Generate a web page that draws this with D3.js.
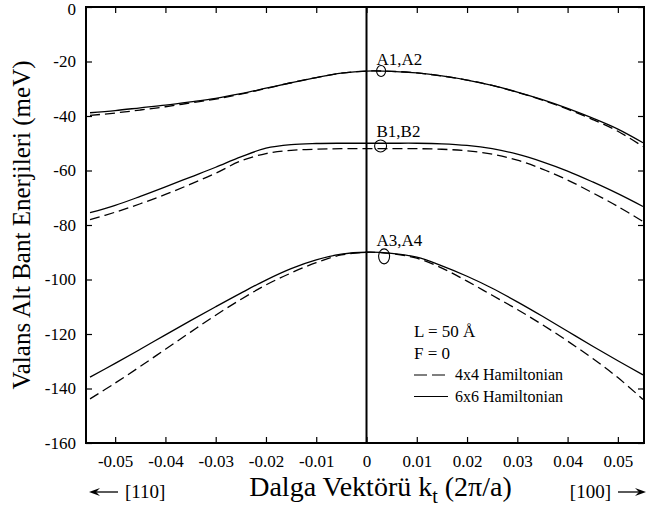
<!DOCTYPE html>
<html>
<head>
<meta charset="utf-8">
<script src="https://cdn.jsdelivr.net/npm/d3@7"></script>
<style>
  body { margin: 0; background: #fff; }
  svg text { font-family: "Liberation Serif", Tinos, "Times New Roman", Times, "Nimbus Roman", "DejaVu Serif", "Noto Serif", serif !important; fill: #000; }
</style>
</head>
<body>
<div id="chart"></div>
<script>
// data
var kValues = [-0.055, -0.05, -0.045, -0.04, -0.035, -0.03, -0.025, -0.02, -0.015, -0.01, -0.005, 0,
    0.005, 0.01, 0.015, 0.02, 0.025, 0.03, 0.035, 0.04, 0.045, 0.05, 0.055];

var a12Solid = [-38.8, -38.0, -37.0, -36.0, -34.8, -33.5, -31.8, -29.8, -27.8, -25.9, -24.3, -23.5,
    -23.6, -24.2, -25.3, -26.8, -28.8, -31.2, -34.0, -37.2, -40.8, -44.8, -49.8];
var a12Dashed = [-39.8, -38.9, -37.8, -36.6, -35.2, -33.8, -32.0, -29.9, -27.8, -25.9, -24.3, -23.5,
    -23.6, -24.2, -25.3, -26.8, -28.8, -31.3, -34.2, -37.5, -41.3, -45.6, -51.2];

var b12Solid = [-75.5, -72.8, -69.5, -66.0, -62.4, -58.8, -55.0, -51.8, -50.5, -50.1, -50.0, -50.0,
    -50.0, -50.0, -50.2, -50.8, -52.0, -54.0, -56.8, -60.2, -64.2, -68.5, -73.2];
var b12Dashed = [-78.0, -75.3, -72.2, -68.8, -65.0, -61.0, -56.5, -53.8, -52.6, -52.2, -52.0, -52.0,
    -52.0, -52.0, -52.2, -52.8, -54.0, -56.2, -59.5, -63.5, -68.2, -73.2, -78.7];

var a34Solid = [-135.8, -130.8, -125.6, -120.3, -115.1, -110.0, -105.0, -100.2, -96.0, -92.8, -90.7, -90.0,
    -90.4, -91.8, -95.0, -98.8, -103.2, -108.2, -113.5, -119.0, -124.5, -129.8, -135.0];
var a34Dashed = [-143.8, -138.0, -131.9, -125.6, -119.3, -113.1, -107.3, -102.0, -97.6, -93.8, -91.0, -90.0,
    -90.5, -92.2, -95.8, -100.6, -105.8, -111.0, -116.6, -122.6, -129.0, -136.0, -144.0];

var xTicks = [-0.05, -0.04, -0.03, -0.02, -0.01, 0, 0.01, 0.02, 0.03, 0.04, 0.05];
var yTicks = [0, -20, -40, -60, -80, -100, -120, -140, -160];

var bandLabels = ["A1,A2", "B1,B2", "A3,A4"];
var bandPeaks = [-23.5, -50, -90];

var width = 651, height = 514;
var mLeft = 86, mRight = 644, mTop = 7, mBottom = 443;

var svg = d3.select("#chart").append("svg")
    .attr("width", width)
    .attr("height", height);

var x = d3.scaleLinear().domain([-0.0558, 0.0552]).range([mLeft, mRight]);
var y = d3.scaleLinear().domain([-160, 0]).range([mBottom, mTop]);

function series(vals) {
    return kValues.map(function (k, i) { return [k, vals[i]]; });
}

var line = d3.line()
    .x(function (d) { return x(d[0]); })
    .y(function (d) { return y(d[1]); })
    .curve(d3.curveCatmullRom);

// curves
[a12Dashed, b12Dashed, a34Dashed].forEach(function (s) {
    svg.append("path")
        .attr("d", line(series(s)))
        .attr("fill", "none")
        .attr("stroke", "#000")
        .attr("stroke-width", 1.3)
        .attr("stroke-dasharray", "10,5");
});
[a12Solid, b12Solid, a34Solid].forEach(function (s) {
    svg.append("path")
        .attr("d", line(series(s)))
        .attr("fill", "none")
        .attr("stroke", "#000")
        .attr("stroke-width", 1.3);
});

// zero line
svg.append("line")
    .attr("x1", x(0)).attr("x2", x(0))
    .attr("y1", mTop).attr("y2", mBottom)
    .attr("stroke", "#000").attr("stroke-width", 2);

// axes (ticks pointing inward on all four sides)
var tickLen = 6;
svg.append("g").attr("transform", "translate(0," + mBottom + ")")
    .call(d3.axisBottom(x).tickValues(xTicks).tickSizeInner(-tickLen).tickSizeOuter(0)
        .tickPadding(12).tickFormat(function (d) { return d === 0 ? "0" : d.toFixed(2); }));
svg.append("g").attr("transform", "translate(0," + mTop + ")")
    .call(d3.axisTop(x).tickValues(xTicks).tickSizeInner(-tickLen).tickSizeOuter(0).tickFormat(""));
var yAxisG = svg.append("g").attr("transform", "translate(" + mLeft + ",0)")
    .call(d3.axisLeft(y).tickValues(yTicks).tickSizeInner(-tickLen).tickSizeOuter(0).tickPadding(10)
        .tickFormat(function (d) { return String(d); }));
svg.append("g").attr("transform", "translate(" + mRight + ",0)")
    .call(d3.axisRight(y).tickValues(yTicks).tickSizeInner(-tickLen).tickSizeOuter(0).tickFormat(""));

svg.selectAll("g").attr("font-family", null);
svg.selectAll(".domain").remove();
svg.selectAll(".tick line").attr("stroke", "#000").attr("stroke-width", 1.2);
svg.selectAll(".tick text")
    .style("font-size", "17px")
    .attr("fill", "#000");
// keep the top "0" label of the y axis inside the picture
yAxisG.selectAll(".tick text").filter(function (d) { return d === 0; }).attr("dy", "0.42em");

// frame
svg.append("rect")
    .attr("x", mLeft).attr("y", mTop)
    .attr("width", mRight - mLeft).attr("height", mBottom - mTop)
    .attr("fill", "none").attr("stroke", "#000").attr("stroke-width", 2);

// band labels and circles
bandLabels.forEach(function (name, i) {
    svg.append("text")
        .attr("x", x(0) + 10).attr("y", y(bandPeaks[i]) - 6)
        .style("font-size", "17px")
        .text(name);
});
svg.append("ellipse").attr("cx", x(0.0029)).attr("cy", y(-23.5)).attr("rx", 4.5).attr("ry", 5.5)
    .attr("fill", "none").attr("stroke", "#000").attr("stroke-width", 1.1);
svg.append("ellipse").attr("cx", x(0.0028)).attr("cy", y(-51)).attr("rx", 6).attr("ry", 6)
    .attr("fill", "none").attr("stroke", "#000").attr("stroke-width", 1.1);
svg.append("ellipse").attr("cx", x(0.0035)).attr("cy", y(-91.5)).attr("rx", 5.5).attr("ry", 7.5)
    .attr("fill", "none").attr("stroke", "#000").attr("stroke-width", 1.1);

// legend
var lx = 414, ly = 337, lh = 21.5;
svg.append("text").attr("x", lx).attr("y", ly).style("font-size", "17px").text("L = 50 Å");
svg.append("text").attr("x", lx).attr("y", ly + lh).style("font-size", "17px").text("F = 0");
svg.append("line").attr("x1", lx).attr("x2", lx + 34).attr("y1", ly + 2 * lh - 5).attr("y2", ly + 2 * lh - 5)
    .attr("stroke", "#000").attr("stroke-width", 1.2).attr("stroke-dasharray", "13,5");
svg.append("text").attr("x", lx + 41).attr("y", ly + 2 * lh).style("font-size", "16px").text("4x4 Hamiltonian");
svg.append("line").attr("x1", lx).attr("x2", lx + 34).attr("y1", ly + 3 * lh - 5).attr("y2", ly + 3 * lh - 5)
    .attr("stroke", "#000").attr("stroke-width", 1.2);
svg.append("text").attr("x", lx + 41).attr("y", ly + 3 * lh).style("font-size", "16px").text("6x6 Hamiltonian");

// axis titles
svg.append("text")
    .attr("transform", "translate(30," + ((mTop + mBottom) / 2) + ") rotate(-90)")
    .attr("text-anchor", "middle")
    .style("font-size", "25px")
    .text("Valans Alt Bant Enerjileri (meV)");

var xt = svg.append("text")
    .attr("x", x(0) + 14).attr("y", 496)
    .attr("text-anchor", "middle")
    .style("font-size", "28px");
xt.append("tspan").text("Dalga Vektörü k");
xt.append("tspan").attr("dy", 7).style("font-size", "20px").text("t");
xt.append("tspan").attr("dy", -7).text(" (2π/a)");

// direction arrows
function arrow(x1, x2, yy) {
    var dir = x2 > x1 ? 1 : -1;
    svg.append("line").attr("x1", x1).attr("x2", x2 - dir * 6).attr("y1", yy).attr("y2", yy)
        .attr("stroke", "#000").attr("stroke-width", 1.3);
    svg.append("path")
        .attr("d", "M" + x2 + "," + yy + "L" + (x2 - dir * 11) + "," + (yy - 4) + "L" + (x2 - dir * 7) + "," + yy +
            "L" + (x2 - dir * 11) + "," + (yy + 4) + "Z")
        .attr("fill", "#000");
}
arrow(118, 89, 492);
svg.append("text").attr("x", 125).attr("y", 498).style("font-size", "19px").text("[110]");
arrow(618, 646, 492);
svg.append("text").attr("x", 611).attr("y", 498).attr("text-anchor", "end").style("font-size", "19px").text("[100]");
</script>
</body>
</html>
